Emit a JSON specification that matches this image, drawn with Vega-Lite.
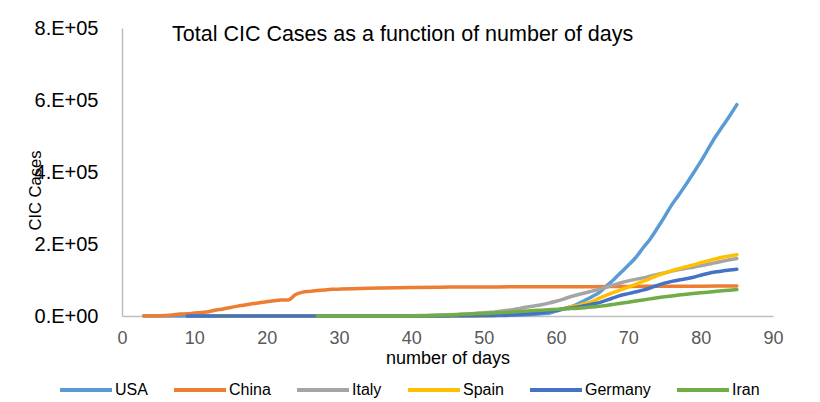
{
  "$schema": "https://vega.github.io/schema/vega-lite/v6.json",
  "width": 651,
  "height": 288,
  "autosize": {"type": "none"},
  "padding": {"left": 122, "top": 28, "right": 47, "bottom": 86},
  "background": "white",
  "title": {"text": "Total CIC Cases as a function of number of days", "anchor": "start", "frame": "group", "dx": 50, "dy": 27, "offset": -17, "fontSize": 21.5, "fontWeight": "normal", "font": "Liberation Sans", "color": "#000000", "baseline": "alphabetic"},
  "config": {"view": {"stroke": null}, "font": "Liberation Sans", "axis": {"grid": false, "ticks": false, "domainColor": "#BFBFBF", "domainWidth": 1.5, "labelFont": "Liberation Sans", "titleFont": "Liberation Sans"}, "legend": {"labelFont": "Liberation Sans"}},
  "data": {"values": [
    {"country":"USA","day":3,"cases":1},{"country":"USA","day":10,"cases":5},{"country":"USA","day":20,"cases":12},{"country":"USA","day":30,"cases":15},{"country":"USA","day":40,"cases":62},{"country":"USA","day":42,"cases":75},{"country":"USA","day":44,"cases":124},{"country":"USA","day":46,"cases":217},{"country":"USA","day":48,"cases":417},{"country":"USA","day":50,"cases":704},{"country":"USA","day":52,"cases":1281},{"country":"USA","day":54,"cases":2179},{"country":"USA","day":56,"cases":3499},{"country":"USA","day":57,"cases":4632},{"country":"USA","day":58,"cases":6421},{"country":"USA","day":59,"cases":7786},{"country":"USA","day":60,"cases":13677},{"country":"USA","day":61,"cases":19100},{"country":"USA","day":62,"cases":25489},{"country":"USA","day":63,"cases":33276},{"country":"USA","day":64,"cases":43847},{"country":"USA","day":65,"cases":53740},{"country":"USA","day":66,"cases":65778},{"country":"USA","day":67,"cases":83836},{"country":"USA","day":68,"cases":101657},{"country":"USA","day":69,"cases":121478},{"country":"USA","day":70,"cases":140886},{"country":"USA","day":71,"cases":161807},{"country":"USA","day":72,"cases":188172},{"country":"USA","day":73,"cases":213242},{"country":"USA","day":74,"cases":243622},{"country":"USA","day":75,"cases":275367},{"country":"USA","day":76,"cases":308650},{"country":"USA","day":77,"cases":336802},{"country":"USA","day":78,"cases":366317},{"country":"USA","day":79,"cases":397121},{"country":"USA","day":80,"cases":428654},{"country":"USA","day":81,"cases":462780},{"country":"USA","day":82,"cases":496535},{"country":"USA","day":83,"cases":526396},{"country":"USA","day":84,"cases":555313},{"country":"USA","day":85,"cases":587000},
    {"country":"China","day":3,"cases":548},{"country":"China","day":5,"cases":920},{"country":"China","day":6,"cases":1406},{"country":"China","day":7,"cases":2877},{"country":"China","day":8,"cases":5509},{"country":"China","day":9,"cases":6087},{"country":"China","day":10,"cases":8141},{"country":"China","day":11,"cases":9802},{"country":"China","day":12,"cases":11891},{"country":"China","day":13,"cases":16630},{"country":"China","day":14,"cases":19716},{"country":"China","day":15,"cases":23707},{"country":"China","day":16,"cases":27440},{"country":"China","day":17,"cases":30587},{"country":"China","day":18,"cases":34110},{"country":"China","day":19,"cases":36814},{"country":"China","day":20,"cases":39829},{"country":"China","day":21,"cases":42354},{"country":"China","day":22,"cases":44386},{"country":"China","day":23,"cases":44759},{"country":"China","day":24,"cases":59895},{"country":"China","day":25,"cases":66358},{"country":"China","day":26,"cases":68413},{"country":"China","day":27,"cases":70513},{"country":"China","day":28,"cases":72434},{"country":"China","day":29,"cases":74211},{"country":"China","day":30,"cases":74619},{"country":"China","day":32,"cases":75550},{"country":"China","day":34,"cases":77001},{"country":"China","day":36,"cases":77779},{"country":"China","day":40,"cases":78824},{"country":"China","day":44,"cases":80026},{"country":"China","day":48,"cases":80651},{"country":"China","day":52,"cases":80860},{"country":"China","day":56,"cases":81003},{"country":"China","day":60,"cases":81156},{"country":"China","day":65,"cases":81498},{"country":"China","day":70,"cases":82122},{"country":"China","day":75,"cases":82543},{"country":"China","day":80,"cases":82841},{"country":"China","day":85,"cases":83134},
    {"country":"Italy","day":12,"cases":2},{"country":"Italy","day":22,"cases":3},{"country":"Italy","day":32,"cases":3},{"country":"Italy","day":33,"cases":20},{"country":"Italy","day":34,"cases":62},{"country":"Italy","day":35,"cases":155},{"country":"Italy","day":36,"cases":229},{"country":"Italy","day":37,"cases":322},{"country":"Italy","day":38,"cases":453},{"country":"Italy","day":39,"cases":655},{"country":"Italy","day":40,"cases":888},{"country":"Italy","day":41,"cases":1128},{"country":"Italy","day":42,"cases":1694},{"country":"Italy","day":43,"cases":2036},{"country":"Italy","day":44,"cases":2502},{"country":"Italy","day":45,"cases":3089},{"country":"Italy","day":46,"cases":3858},{"country":"Italy","day":47,"cases":4636},{"country":"Italy","day":48,"cases":5883},{"country":"Italy","day":49,"cases":7375},{"country":"Italy","day":50,"cases":9172},{"country":"Italy","day":51,"cases":10149},{"country":"Italy","day":52,"cases":12462},{"country":"Italy","day":53,"cases":15113},{"country":"Italy","day":54,"cases":17660},{"country":"Italy","day":55,"cases":21157},{"country":"Italy","day":56,"cases":24747},{"country":"Italy","day":57,"cases":27980},{"country":"Italy","day":58,"cases":31506},{"country":"Italy","day":59,"cases":35713},{"country":"Italy","day":60,"cases":41035},{"country":"Italy","day":61,"cases":47021},{"country":"Italy","day":62,"cases":53578},{"country":"Italy","day":63,"cases":59138},{"country":"Italy","day":64,"cases":63927},{"country":"Italy","day":65,"cases":69176},{"country":"Italy","day":66,"cases":74386},{"country":"Italy","day":67,"cases":80589},{"country":"Italy","day":68,"cases":86498},{"country":"Italy","day":69,"cases":92472},{"country":"Italy","day":70,"cases":97689},{"country":"Italy","day":71,"cases":101739},{"country":"Italy","day":72,"cases":105792},{"country":"Italy","day":73,"cases":110574},{"country":"Italy","day":74,"cases":115242},{"country":"Italy","day":75,"cases":119827},{"country":"Italy","day":76,"cases":124632},{"country":"Italy","day":77,"cases":128948},{"country":"Italy","day":78,"cases":132547},{"country":"Italy","day":79,"cases":135586},{"country":"Italy","day":80,"cases":139422},{"country":"Italy","day":81,"cases":143626},{"country":"Italy","day":82,"cases":147577},{"country":"Italy","day":83,"cases":152271},{"country":"Italy","day":84,"cases":156363},{"country":"Italy","day":85,"cases":159516},
    {"country":"Spain","day":13,"cases":1},{"country":"Spain","day":25,"cases":2},{"country":"Spain","day":36,"cases":2},{"country":"Spain","day":37,"cases":6},{"country":"Spain","day":38,"cases":13},{"country":"Spain","day":39,"cases":15},{"country":"Spain","day":40,"cases":32},{"country":"Spain","day":41,"cases":45},{"country":"Spain","day":42,"cases":84},{"country":"Spain","day":43,"cases":120},{"country":"Spain","day":44,"cases":165},{"country":"Spain","day":45,"cases":222},{"country":"Spain","day":46,"cases":259},{"country":"Spain","day":47,"cases":400},{"country":"Spain","day":48,"cases":500},{"country":"Spain","day":49,"cases":673},{"country":"Spain","day":50,"cases":1073},{"country":"Spain","day":51,"cases":1695},{"country":"Spain","day":52,"cases":2277},{"country":"Spain","day":53,"cases":3146},{"country":"Spain","day":54,"cases":5232},{"country":"Spain","day":55,"cases":6391},{"country":"Spain","day":56,"cases":7798},{"country":"Spain","day":57,"cases":9942},{"country":"Spain","day":58,"cases":11748},{"country":"Spain","day":59,"cases":13910},{"country":"Spain","day":60,"cases":17963},{"country":"Spain","day":61,"cases":20410},{"country":"Spain","day":62,"cases":25374},{"country":"Spain","day":63,"cases":28768},{"country":"Spain","day":64,"cases":35136},{"country":"Spain","day":65,"cases":39885},{"country":"Spain","day":66,"cases":49515},{"country":"Spain","day":67,"cases":57786},{"country":"Spain","day":68,"cases":65719},{"country":"Spain","day":69,"cases":73235},{"country":"Spain","day":70,"cases":80110},{"country":"Spain","day":71,"cases":87956},{"country":"Spain","day":72,"cases":95923},{"country":"Spain","day":73,"cases":104118},{"country":"Spain","day":74,"cases":112065},{"country":"Spain","day":75,"cases":119199},{"country":"Spain","day":76,"cases":126168},{"country":"Spain","day":77,"cases":131646},{"country":"Spain","day":78,"cases":136675},{"country":"Spain","day":79,"cases":141942},{"country":"Spain","day":80,"cases":148220},{"country":"Spain","day":81,"cases":153222},{"country":"Spain","day":82,"cases":158273},{"country":"Spain","day":83,"cases":163027},{"country":"Spain","day":84,"cases":166831},{"country":"Spain","day":85,"cases":170099},
    {"country":"Germany","day":9,"cases":4},{"country":"Germany","day":12,"cases":5},{"country":"Germany","day":15,"cases":12},{"country":"Germany","day":20,"cases":14},{"country":"Germany","day":25,"cases":16},{"country":"Germany","day":36,"cases":16},{"country":"Germany","day":37,"cases":18},{"country":"Germany","day":38,"cases":27},{"country":"Germany","day":39,"cases":46},{"country":"Germany","day":40,"cases":48},{"country":"Germany","day":41,"cases":79},{"country":"Germany","day":42,"cases":130},{"country":"Germany","day":43,"cases":159},{"country":"Germany","day":44,"cases":196},{"country":"Germany","day":45,"cases":262},{"country":"Germany","day":46,"cases":482},{"country":"Germany","day":47,"cases":670},{"country":"Germany","day":48,"cases":799},{"country":"Germany","day":49,"cases":1040},{"country":"Germany","day":50,"cases":1176},{"country":"Germany","day":51,"cases":1457},{"country":"Germany","day":52,"cases":1908},{"country":"Germany","day":53,"cases":2078},{"country":"Germany","day":54,"cases":3675},{"country":"Germany","day":55,"cases":4585},{"country":"Germany","day":56,"cases":5795},{"country":"Germany","day":57,"cases":7272},{"country":"Germany","day":58,"cases":9257},{"country":"Germany","day":59,"cases":12327},{"country":"Germany","day":60,"cases":15320},{"country":"Germany","day":61,"cases":19848},{"country":"Germany","day":62,"cases":22213},{"country":"Germany","day":63,"cases":24873},{"country":"Germany","day":64,"cases":29056},{"country":"Germany","day":65,"cases":32986},{"country":"Germany","day":66,"cases":37323},{"country":"Germany","day":67,"cases":43938},{"country":"Germany","day":68,"cases":50871},{"country":"Germany","day":69,"cases":57695},{"country":"Germany","day":70,"cases":62095},{"country":"Germany","day":71,"cases":66885},{"country":"Germany","day":72,"cases":71808},{"country":"Germany","day":73,"cases":77872},{"country":"Germany","day":74,"cases":84794},{"country":"Germany","day":75,"cases":91159},{"country":"Germany","day":76,"cases":96092},{"country":"Germany","day":77,"cases":100123},{"country":"Germany","day":78,"cases":103374},{"country":"Germany","day":79,"cases":107663},{"country":"Germany","day":80,"cases":113296},{"country":"Germany","day":81,"cases":118181},{"country":"Germany","day":82,"cases":122171},{"country":"Germany","day":83,"cases":124908},{"country":"Germany","day":84,"cases":127854},{"country":"Germany","day":85,"cases":130072},
    {"country":"Iran","day":27,"cases":0},{"country":"Iran","day":31,"cases":2},{"country":"Iran","day":33,"cases":18},{"country":"Iran","day":35,"cases":43},{"country":"Iran","day":37,"cases":95},{"country":"Iran","day":39,"cases":245},{"country":"Iran","day":41,"cases":593},{"country":"Iran","day":42,"cases":978},{"country":"Iran","day":43,"cases":1501},{"country":"Iran","day":44,"cases":2336},{"country":"Iran","day":45,"cases":2922},{"country":"Iran","day":46,"cases":3513},{"country":"Iran","day":47,"cases":4747},{"country":"Iran","day":48,"cases":5823},{"country":"Iran","day":49,"cases":6566},{"country":"Iran","day":50,"cases":7161},{"country":"Iran","day":51,"cases":8042},{"country":"Iran","day":52,"cases":9000},{"country":"Iran","day":53,"cases":10075},{"country":"Iran","day":54,"cases":11364},{"country":"Iran","day":55,"cases":12729},{"country":"Iran","day":56,"cases":13938},{"country":"Iran","day":57,"cases":14991},{"country":"Iran","day":58,"cases":16169},{"country":"Iran","day":59,"cases":17361},{"country":"Iran","day":60,"cases":18407},{"country":"Iran","day":61,"cases":19644},{"country":"Iran","day":62,"cases":20610},{"country":"Iran","day":63,"cases":21638},{"country":"Iran","day":64,"cases":23049},{"country":"Iran","day":65,"cases":24811},{"country":"Iran","day":66,"cases":27017},{"country":"Iran","day":67,"cases":29406},{"country":"Iran","day":68,"cases":32332},{"country":"Iran","day":69,"cases":35408},{"country":"Iran","day":70,"cases":38309},{"country":"Iran","day":71,"cases":41495},{"country":"Iran","day":72,"cases":44605},{"country":"Iran","day":73,"cases":47593},{"country":"Iran","day":74,"cases":50468},{"country":"Iran","day":75,"cases":53183},{"country":"Iran","day":76,"cases":55743},{"country":"Iran","day":77,"cases":58226},{"country":"Iran","day":78,"cases":60500},{"country":"Iran","day":79,"cases":62589},{"country":"Iran","day":80,"cases":64586},{"country":"Iran","day":81,"cases":66220},{"country":"Iran","day":82,"cases":68192},{"country":"Iran","day":83,"cases":70029},{"country":"Iran","day":84,"cases":71686},{"country":"Iran","day":85,"cases":73303}
  ]},
  "mark": {"type": "line", "interpolate": "monotone", "strokeWidth": 3.5, "strokeCap": "round"},
  "encoding": {
    "x": {"field": "day", "type": "quantitative", "scale": {"domain": [0, 90], "nice": false},
      "axis": {"values": [0, 10, 20, 30, 40, 50, 60, 70, 80, 90], "title": "number of days", "labelFontSize": 18, "labelColor": "#595959", "labelPadding": 13, "labelFlush": false, "labelOverlap": false, "titleFontSize": 18, "titleFontWeight": "normal", "titleColor": "#000000", "titlePadding": 2}},
    "y": {"field": "cases", "type": "quantitative", "scale": {"domain": [0, 800000], "nice": false},
      "axis": {"values": [0, 200000, 400000, 600000, 800000], "labelExpr": "datum.value == 0 ? '0.E+00' : (datum.value / 100000) + '.E+05'", "labelFontSize": 20, "labelColor": "#000000", "labelPadding": 24, "labelFlush": false, "labelOverlap": false, "title": "CIC Cases", "titleFontSize": 16.5, "titleFontWeight": "normal", "titleColor": "#000000", "titleX": -87, "titleY": 162, "titleAlign": "center", "titleBaseline": "middle", "titleAngle": -90}},
    "color": {"field": "country", "type": "nominal",
      "scale": {"domain": ["USA", "China", "Italy", "Spain", "Germany", "Iran"], "range": ["#5B9BD5", "#ED7D31", "#A5A5A5", "#FFC000", "#4472C4", "#70AD47"]},
      "legend": {"title": null, "orient": "none", "legendX": -64, "legendY": 334, "direction": "horizontal", "gridAlign": "none", "symbolType": "stroke", "symbolStrokeWidth": 4, "symbolSize": 2704, "labelFontSize": 16, "labelColor": "#000000", "labelOffset": 1, "columnPadding": 18}}
  }
}
